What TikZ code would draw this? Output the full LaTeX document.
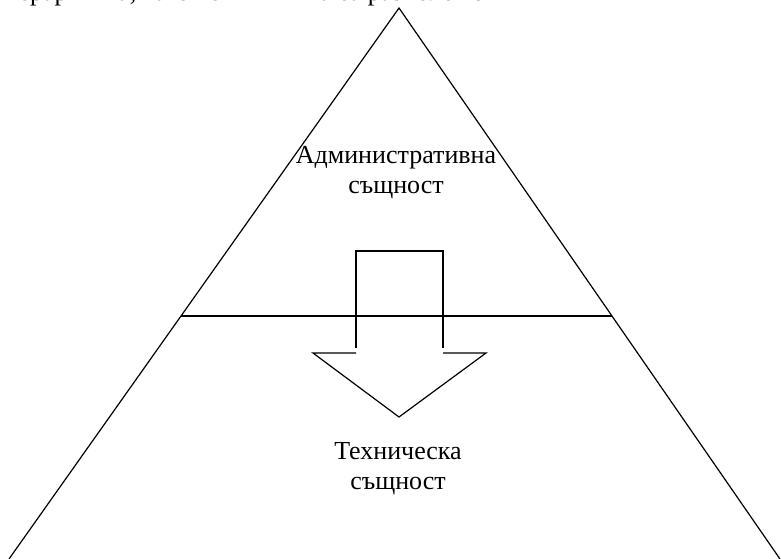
\documentclass[tikz,border=0pt]{standalone}
\usepackage{fontspec}
\setmainfont{Liberation Serif}
\usetikzlibrary{calc}
\begin{document}
\begin{tikzpicture}[x=1pt,y=-1pt,
  edge/.style={draw=black,line width=1.2pt,line join=miter},
  lbl/.style={inner sep=0pt,align=center,font=\fontsize{26}{30}\selectfont}]
\useasboundingbox[fill=white] (0,0) rectangle (781,559);
% line of text cut off by the top edge
\begin{scope}
\clip (0,0) rectangle (781,559);
\node[inner sep=0pt,anchor=base west,font=\fontsize{26}{30}\selectfont] (top) at (4.5,0.8) {йерархията, като всички нива са разположени};
\end{scope}
% pyramid
\coordinate (apex) at (399,8);
\coordinate (bl) at (9,559);
\coordinate (br) at (780,559);
\draw[edge] (bl) -- (apex) -- (br);
\coordinate (ml) at ($(apex)!0.559!(bl)$);
\coordinate (mr) at ($(apex)!0.559!(br)$);
\draw[edge] (ml) -- (mr);
% down arrow
\coordinate (sl) at (356,348);
\coordinate (slt) at (356,251);
\coordinate (srt) at (443,251);
\coordinate (sr) at (443,348);
\coordinate (hli) at (356,353);
\coordinate (hlo) at (313,353);
\coordinate (tip) at (399,417);
\coordinate (hro) at (486,353);
\coordinate (hri) at (443,353);
\draw[edge] (sl) -- (slt) -- (srt) -- (sr);
\draw[edge] (hli) -- (hlo) -- (tip) -- (hro) -- (hri);
% labels
\node[lbl,anchor=base] (adm) at (396,193) {Административна\\същност};
\node[lbl,anchor=base] (tech) at (398,489) {Техническа\\същност};
\end{tikzpicture}
\end{document}
